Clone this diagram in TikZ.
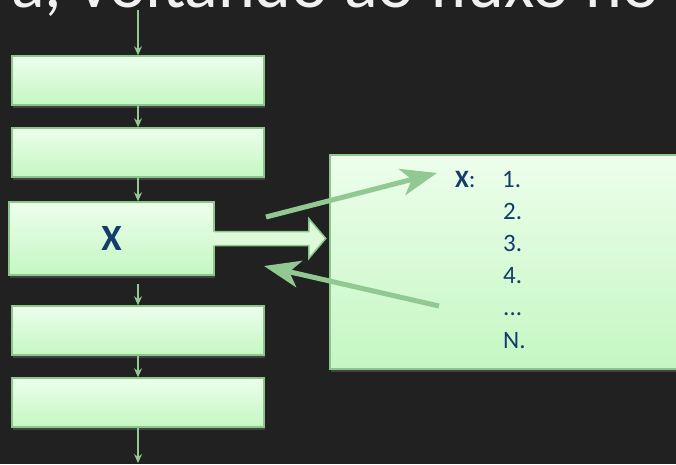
\documentclass[tikz,border=0pt]{standalone}
\usepackage{fontspec}
\setmainfont{Carlito}
\usetikzlibrary{arrows.meta,shadows,calc}
\definecolor{bg}{HTML}{212121}
\definecolor{boxtop}{HTML}{EDFEEC}
\definecolor{boxbot}{HTML}{C4F7C2}
\definecolor{boxline}{HTML}{8CC68A}
\definecolor{blockfill}{HTML}{DDFADB}
\definecolor{arr}{HTML}{92C992}
\definecolor{txt}{HTML}{143C6C}
\begin{document}
\begin{tikzpicture}[x=1pt,y=-1pt,
  box/.style={draw=boxline, line width=1.5pt, top color=boxtop, bottom color=boxbot, inner sep=0pt,
    drop shadow={shadow xshift=1pt, shadow yshift=-3pt, opacity=0.35}},
  flow/.style={draw=arr, line width=1.2pt, -{Stealth[length=9pt,width=8pt,inset=3pt]}},
  fat/.style={draw=arr, line width=5pt, -{Stealth[length=36pt,width=27pt,inset=10pt]}},
  lbl/.style={text=txt, font=\fontsize{25}{25}\selectfont, inner sep=0pt, anchor=base west}
]
\fill[bg] (0,0) rectangle (676,464);
\useasboundingbox (0,0) rectangle (676,464);
\begin{scope}
\clip (0,0) rectangle (676,464);
\node[text=white!94!black, anchor=base west, inner sep=0pt, font=\fontsize{70}{70}\selectfont] (title) at (-12,7) {ra, voltando ao fluxo no};

\node[box, minimum width=252pt, minimum height=49pt] (b1) at (138,80.5) {};
\node[box, minimum width=252pt, minimum height=49pt] (b2) at (138,152.5) {};
\node[box, minimum width=205pt, minimum height=73pt, text=txt, font=\fontsize{37}{37}\selectfont\bfseries] (xb) at (111.5,238.5) {X};
\node[box, minimum width=252pt, minimum height=49pt] (b4) at (138,330.5) {};
\node[box, minimum width=252pt, minimum height=49pt] (b5) at (138,402.5) {};
\node[box, minimum width=360pt, minimum height=214pt] (big) at (510,262) {};

\coordinate (top) at (138,10);
\coordinate (bot) at (138,463);
\draw[flow] (top) -- (b1.north);
\draw[flow] (b1.south) -- (b2.north);
\draw[flow] (b2.south) -- (b2.south |- xb.north);
\draw[flow, shorten <=8pt] (b4.north |- xb.south) -- (b4.north);
\draw[flow] (b4.south) -- (b5.north);
\draw[flow] (b5.south) -- (bot);

% block arrow
\fill[blockfill] ([xshift=-2pt]xb.east) ++(0,-7) -- ++(96,0) -- ++(0,-13) -- ++(17,20) -- ++(-17,20) -- ++(0,-13) -- ++(-96,0) -- cycle;
\draw[boxline, line width=1.5pt, line join=miter] (xb.east) ++(0,-7) -- ++(94,0) -- ++(0,-13) -- ++(17,20) -- ++(-17,20) -- ++(0,-13) -- ++(-94,0);

% list
\node[lbl] (xl) at (455,187) {\textbf{X}:};
\node[lbl] (n1) at (502,187) {1.};
\node[lbl] (n2) at (503,219.2) {2.};
\node[lbl] (n3) at (503,251.4) {3.};
\node[lbl] (n4) at (503,283.6) {4.};
\node[lbl] (n5) at (503,315.8) {...};
\node[lbl] (n6) at (503,348) {N.};

% thick arrows
\coordinate (a1s) at (266,217);
\coordinate (a1e) at (437,173);
\coordinate (a2s) at (439,306);
\coordinate (a2e) at (264,266);
\draw[fat] (a1s) -- (a1e);
\draw[fat] (a2s) -- (a2e);
\end{scope}
\end{tikzpicture}
\end{document}
